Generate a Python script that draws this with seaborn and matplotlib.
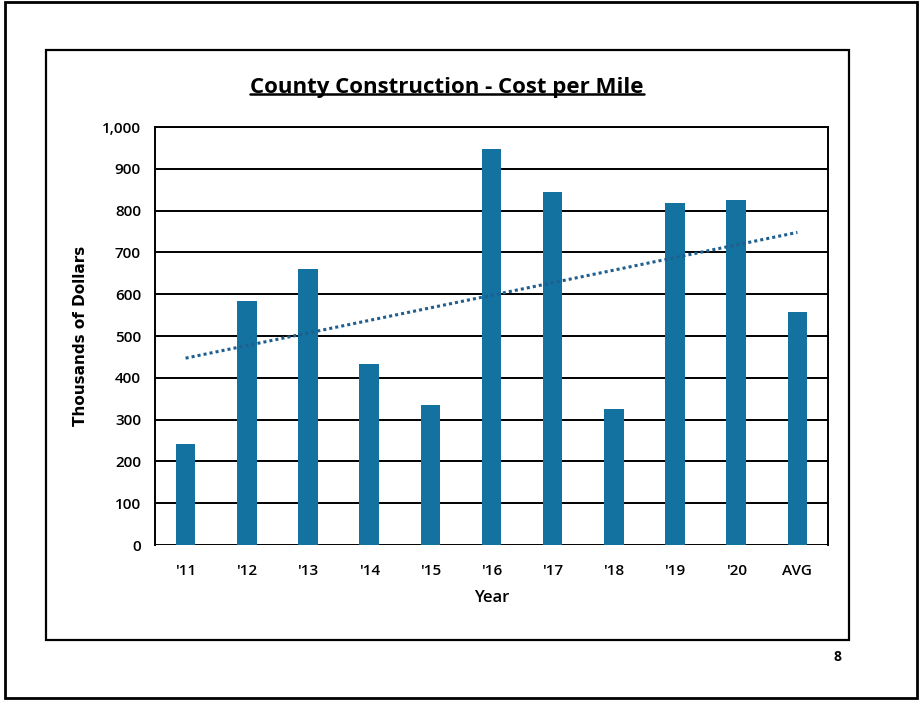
import numpy as np
import pandas as pd
import matplotlib
matplotlib.use("Agg")
import matplotlib.pyplot as plt
from matplotlib.patches import Rectangle
from matplotlib.lines import Line2D
import seaborn as sns

# ---- data ----
categories = ["'11", "'12", "'13", "'14", "'15", "'16", "'17", "'18", "'19", "'20", "AVG"]
cost_per_mile = [242, 585, 660, 432, 335, 948, 845, 325, 818, 825, 558]
y_ticks = [0, 100, 200, 300, 400, 500, 600, 700, 800, 900, 1000]
y_tick_labels = ["0", "100", "200", "300", "400", "500", "600", "700", "800", "900", "1,000"]
title = "County Construction - Cost per Mile"
x_label = "Year"
y_label = "Thousands of Dollars"
page_number = "8"

df = pd.DataFrame({"Year": categories, "Cost": cost_per_mile})

sns.set_theme(style="white")
plt.rcParams["font.family"] = ["Open Sans", "DejaVu Sans"]

BAR = "#1372a0"

fig = plt.figure(figsize=(9.21, 7.02), dpi=100)
fig.patch.set_facecolor("white")
ax = fig.add_axes([0.1683, 0.2236, 0.899 - 0.1683, 0.819 - 0.2236])

sns.barplot(data=df, x="Year", y="Cost", color=BAR, saturation=1, width=0.32,
            linewidth=0, ax=ax, zorder=3)

# linear trend line over all categories
xs = np.arange(len(categories))
coef = np.polyfit(xs, cost_per_mile, 1)
ax.plot(xs, np.polyval(coef, xs), linestyle=(0, (1, 1)), color="#1f5f8f",
        linewidth=2.2, zorder=4)

ax.set_ylim(0, 1000)
ax.set_xlim(-0.5, len(categories) - 0.5)
ax.set_yticks(y_ticks)
ax.set_yticklabels(y_tick_labels)
ax.yaxis.grid(True, color="black", linewidth=1.4, zorder=0)
ax.set_axisbelow(True)
for s in ["left", "top", "right"]:
    ax.spines[s].set_visible(True)
    ax.spines[s].set_color("black")
    ax.spines[s].set_linewidth(1.4)
ax.spines["bottom"].set_visible(False)

ax.tick_params(axis="both", length=0, labelsize=11, colors="black")
ax.tick_params(axis="y", pad=10)
ax.tick_params(axis="x", pad=14)
for lab in ax.get_xticklabels() + ax.get_yticklabels():
    lab.set_fontweight("semibold")

ax.set_xlabel(x_label, fontsize=12, fontweight="semibold", labelpad=8, color="black")
ax.set_ylabel(y_label, fontsize=11, fontweight="bold", labelpad=10, color="black",
              family=["DejaVu Sans"])

# title with underline
t = fig.text(447 / 921, 1 - 88 / 702, title, ha="center", va="center",
             fontsize=16, fontweight="bold", color="black")
fig.canvas.draw()
bb = t.get_window_extent(renderer=fig.canvas.get_renderer())
inv = fig.transFigure.inverted()
(x0, y0), (x1, y1) = inv.transform([[bb.x0, bb.y0], [bb.x1, bb.y1]])
fig.add_artist(Line2D([x0, x1], [y0 + 0.006, y0 + 0.006], color="black",
                      linewidth=1.8, transform=fig.transFigure))

# page number
fig.text(837 / 921, 1 - 657 / 702, page_number, ha="center", va="center",
         fontsize=10, fontweight="bold", color="black")

# inner chart frame
fig.add_artist(Rectangle((46 / 921, 1 - 640 / 702), (849 - 46) / 921, (640 - 50) / 702,
                         fill=False, edgecolor="black", linewidth=1.6,
                         transform=fig.transFigure))
# outer page frame
fig.add_artist(Rectangle((5 / 921, 1 - 698 / 702), (917 - 5) / 921, (698 - 2) / 702,
                         fill=False, edgecolor="black", linewidth=2,
                         transform=fig.transFigure))

fig.savefig("out.png", dpi=100, facecolor="white")
